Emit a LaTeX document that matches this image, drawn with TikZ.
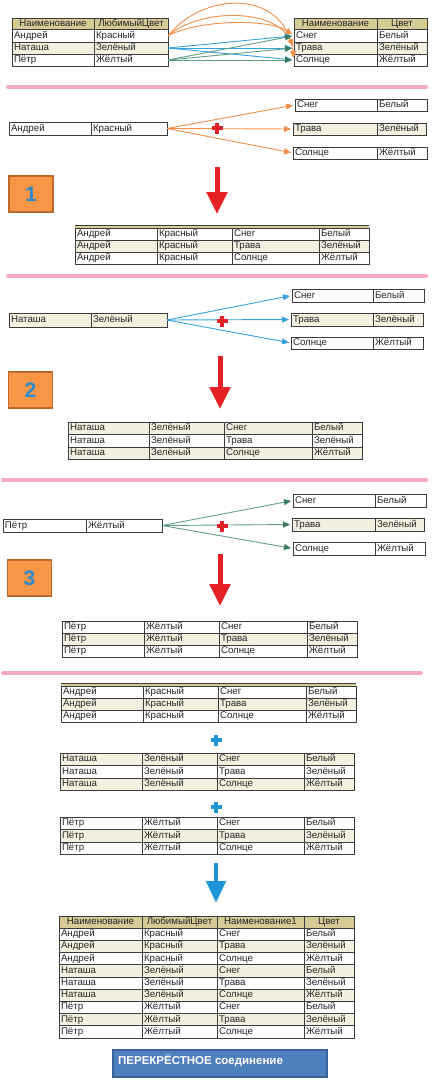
\documentclass[tikz,border=0pt]{standalone}
\usepackage{fontspec}
\setmainfont{Liberation Sans}
\usetikzlibrary{arrows.meta}
\definecolor{hdrcol}{HTML}{D6CA96}
\definecolor{rowcol}{HTML}{F3F0DF}
\definecolor{gridc}{HTML}{3C3C3C}
\definecolor{textc}{HTML}{262626}
\definecolor{orangeA}{HTML}{F0904A}
\definecolor{blueA}{HTML}{35A2DB}
\definecolor{greenA}{HTML}{5FA084}
\definecolor{greenH}{HTML}{3E7A5E}
\definecolor{redA}{HTML}{E52125}
\definecolor{pinkA}{HTML}{F6A8C4}
\definecolor{boxO}{HTML}{F79646}
\definecolor{boxOd}{HTML}{BE6A2C}
\definecolor{numB}{HTML}{2C8ACB}
\definecolor{bluePlus}{HTML}{1E96D6}
\definecolor{boxB}{HTML}{4F7FBF}
\definecolor{boxBd}{HTML}{3A6195}
\tikzset{
  gridline/.style={draw=gridc, line width=0.8pt},
  cell/.style={anchor=west, inner xsep=1.8pt, inner ysep=0pt, text height=7pt, text depth=2pt, text=textc, font=\fontsize{9.7}{11}\selectfont},
  hcell/.style={anchor=center, inner sep=0pt, text height=7pt, text depth=2pt, text=textc, font=\fontsize{9.7}{11}\selectfont},
  tiparrow/.style={line width=0.9pt, shorten >=2pt, -{Triangle[length=7pt,width=6pt]}},
  oarrow/.style={tiparrow, draw=orangeA},
  barrow/.style={tiparrow, draw=blueA},
  garrow/.style={tiparrow, draw=greenA, -{Triangle[length=7pt,width=6pt,fill=greenH,color=greenH]}},
  pinkline/.style={draw=pinkA, line width=4pt, line cap=round},
  numbox/.style={draw=boxOd, fill=boxO, line width=1.2pt, minimum width=44pt, minimum height=36pt, inner sep=0pt, text=numB, font=\fontsize{21}{24}\selectfont\bfseries},
  bigred/.style={draw=redA, line width=5pt, -{Triangle[length=22pt,width=20pt]}},
  bigblue/.style={draw=bluePlus, line width=4.5pt, -{Triangle[length=22pt,width=19pt]}},
  plusmark/.style={line width=3.4pt},
}
\newcommand{\trow}[9]{%
  \fill[#7] (#2,#5) rectangle (#4,#6);
  \draw[gridline] (#2,#5) rectangle (#4,#6) (#3,#5) -- (#3,#6);
  \node[cell] (#1a) at (#2,{(#5+#6)/2}) {#8};
  \node[cell] (#1b) at (#3,{(#5+#6)/2}) {#9};
  \coordinate (#1W) at (#2,{(#5+#6)/2});
  \coordinate (#1E) at (#4,{(#5+#6)/2});
}
\newcommand{\setcols}[5]{\def\cxA{#1}\def\cxB{#2}\def\cxC{#3}\def\cxD{#4}\def\cxE{#5}}
\newcommand{\frow}[8]{%
  \fill[#4] (\cxA,#2) rectangle (\cxE,#3);
  \draw[gridline] (\cxA,#2) rectangle (\cxE,#3) (\cxB,#2) -- (\cxB,#3) (\cxC,#2) -- (\cxC,#3) (\cxD,#2) -- (\cxD,#3);
  \node[cell] (#1a) at (\cxA,{(#2+#3)/2}) {#5};
  \node[cell] (#1b) at (\cxB,{(#2+#3)/2}) {#6};
  \node[cell] (#1c) at (\cxC,{(#2+#3)/2}) {#7};
  \node[cell] (#1d) at (\cxD,{(#2+#3)/2}) {#8};
}
\newcommand{\plusat}[3]{%
  \draw[plusmark,#1] ({#2-5.5},#3) -- ({#2+5.5},#3) (#2,{#3-5.5}) -- (#2,{#3+5.5});
}
\begin{document}
\begin{tikzpicture}[x=1pt,y=-1pt]
\useasboundingbox[fill=white] (0,0) rectangle (434,1084);

% ---------- top: source tables ----------
\fill[hdrcol] (12,18) rectangle (168,29.5);
\draw[gridline] (12,18) rectangle (168,29.5) (94,18) -- (94,29.5);
\node[hcell] (lh1) at (53,23.75) {Наименование};
\node[hcell] (lh2) at (131,23.75) {ЛюбимыйЦвет};
\trow{tA}{12}{94}{168}{29.5}{42}{white}{Андрей}{Красный}
\trow{tN}{12}{94}{168}{42}{54}{rowcol}{Наташа}{Зелёный}
\trow{tP}{12}{94}{168}{54}{66}{white}{Пётр}{Жёлтый}

\fill[hdrcol] (294,18) rectangle (427,29.5);
\draw[gridline] (294,18) rectangle (427,29.5) (377,18) -- (377,29.5);
\node[hcell] (rh1) at (335.5,23.75) {Наименование};
\node[hcell] (rh2) at (402,23.75) {Цвет};
\trow{tS}{294}{377}{427}{29.5}{42}{white}{Снег}{Белый}
\trow{tT}{294}{377}{427}{42}{54}{rowcol}{Трава}{Зелёный}
\trow{tC}{294}{377}{427}{54}{66}{white}{Солнце}{Жёлтый}

\draw[oarrow] (tAE) .. controls (205,-10) and (285,-10) .. (tCW);
\draw[oarrow] (tAE) .. controls (200,8) and (275,8) .. (tTW);
\draw[oarrow] (tAE) .. controls (200,19) and (270,19) .. (tSW);
\draw[barrow] (tNE) -- (tSW);
\draw[barrow] (tNE) -- (tTW);
\draw[barrow] (tNE) -- (tCW);
\draw[garrow] (tPE) -- (tSW);
\draw[garrow] (tPE) -- (tTW);
\draw[garrow] (tPE) -- (tCW);

\coordinate (pl1a) at (8,87); \coordinate (pl1b) at (426,87);
\draw[pinkline] (pl1a) -- (pl1b);

% ---------- section 1 ----------
\trow{aR}{9}{91}{167}{122}{135}{white}{Андрей}{Красный}
\trow{sAS}{295}{377}{427}{99}{111}{white}{Снег}{Белый}
\trow{sAT}{293}{377}{426}{123}{135}{rowcol}{Трава}{Зелёный}
\trow{sAC}{293}{377}{427}{147}{159}{white}{Солнце}{Жёлтый}
\draw[oarrow] (aRE) -- (sASW);
\draw[oarrow] (aRE) -- (sATW);
\draw[oarrow] (aRE) -- (sACW);
\plusat{redA}{217}{128}
\node[numbox] (n1) at (31,194) {1};
\coordinate (ra1) at (217,167); \coordinate (rb1) at (217,214);
\draw[bigred] (ra1) -- (rb1);
\setcols{75}{157}{232}{319}{369}
\fill[hdrcol] (75,225.5) rectangle (369,228);
\draw[gridline] (75,225.5) -- (369,225.5);
\frow{rA1}{228}{240}{white}{Андрей}{Красный}{Снег}{Белый}
\frow{rA2}{240}{252}{rowcol}{Андрей}{Красный}{Трава}{Зелёный}
\frow{rA3}{252}{264}{white}{Андрей}{Красный}{Солнце}{Жёлтый}

\coordinate (pl2a) at (8,276); \coordinate (pl2b) at (426,276);
\draw[pinkline] (pl2a) -- (pl2b);

% ---------- section 2 ----------
\trow{nR}{9}{91}{167}{313}{327}{rowcol}{Наташа}{Зелёный}
\trow{sBS}{292}{373}{424}{289}{302}{white}{Снег}{Белый}
\trow{sBT}{291}{373}{423}{313}{326}{rowcol}{Трава}{Зелёный}
\trow{sBC}{291}{373}{423}{337}{349}{white}{Солнце}{Жёлтый}
\draw[barrow] (nRE) -- (sBSW);
\draw[barrow] (nRE) -- (sBTW);
\draw[barrow] (nRE) -- (sBCW);
\plusat{redA}{222}{321}
\node[numbox] (n2) at (30.5,390) {2};
\coordinate (ra2) at (220,356); \coordinate (rb2) at (220,409);
\draw[bigred] (ra2) -- (rb2);
\setcols{68}{149}{224}{312}{362}
\frow{rB1}{422}{434.5}{rowcol}{Наташа}{Зелёный}{Снег}{Белый}
\frow{rB2}{434.5}{447}{white}{Наташа}{Зелёный}{Трава}{Зелёный}
\frow{rB3}{447}{459.5}{rowcol}{Наташа}{Зелёный}{Солнце}{Жёлтый}

\coordinate (pl3a) at (3,480); \coordinate (pl3b) at (426,480);
\draw[pinkline] (pl3a) -- (pl3b);

% ---------- section 3 ----------
\trow{pR}{3}{86}{162}{519}{532}{white}{Пётр}{Жёлтый}
\trow{sCS}{293}{375}{426}{494}{507}{white}{Снег}{Белый}
\trow{sCT}{292}{375}{424}{518}{531}{rowcol}{Трава}{Зелёный}
\trow{sCC}{293}{375}{425}{542}{555}{white}{Солнце}{Жёлтый}
\draw[garrow] (pRE) -- (sCSW);
\draw[garrow] (pRE) -- (sCTW);
\draw[garrow] (pRE) -- (sCCW);
\plusat{redA}{222}{526}
\node[numbox] (n3) at (29.5,578) {3};
\coordinate (ra3) at (220,554); \coordinate (rb3) at (220,606);
\draw[bigred] (ra3) -- (rb3);
\setcols{62}{144}{219}{307}{357}
\frow{rC1}{621}{633}{white}{Пётр}{Жёлтый}{Снег}{Белый}
\frow{rC2}{633}{645}{rowcol}{Пётр}{Жёлтый}{Трава}{Зелёный}
\frow{rC3}{645}{657}{white}{Пётр}{Жёлтый}{Солнце}{Жёлтый}

\coordinate (pl4a) at (3,673); \coordinate (pl4b) at (421,673);
\draw[pinkline] (pl4a) -- (pl4b);

% ---------- union ----------
\setcols{61}{143}{218}{306}{356}
\fill[hdrcol] (61,683.5) rectangle (356,686);
\draw[gridline] (61,683.5) -- (356,683.5);
\frow{uA1}{686}{698}{white}{Андрей}{Красный}{Снег}{Белый}
\frow{uA2}{698}{710}{rowcol}{Андрей}{Красный}{Трава}{Зелёный}
\frow{uA3}{710}{722}{white}{Андрей}{Красный}{Солнце}{Жёлтый}
\plusat{bluePlus}{216}{740}
\setcols{60}{142}{217}{304}{354}
\frow{uB1}{753}{765}{rowcol}{Наташа}{Зелёный}{Снег}{Белый}
\frow{uB2}{765}{778}{white}{Наташа}{Зелёный}{Трава}{Зелёный}
\frow{uB3}{778}{790}{rowcol}{Наташа}{Зелёный}{Солнце}{Жёлтый}
\plusat{bluePlus}{216}{807}
\frow{uC1}{817}{829}{white}{Пётр}{Жёлтый}{Снег}{Белый}
\frow{uC2}{829}{842}{rowcol}{Пётр}{Жёлтый}{Трава}{Зелёный}
\frow{uC3}{842}{854}{white}{Пётр}{Жёлтый}{Солнце}{Жёлтый}
\coordinate (ba) at (216,863); \coordinate (bb) at (216,903);
\draw[bigblue] (ba) -- (bb);

% ---------- result ----------
\setcols{59}{142}{217}{304}{354}
\fill[hdrcol] (59,916) rectangle (354,928);
\draw[gridline] (59,916) rectangle (354,928) (142,916) -- (142,928) (217,916) -- (217,928) (304,916) -- (304,928);
\node[hcell] (fh1) at (100.5,922) {Наименование};
\node[hcell] (fh2) at (179.5,922) {ЛюбимыйЦвет};
\node[hcell] (fh3) at (260.5,922) {Наименование1};
\node[hcell] (fh4) at (329,922) {Цвет};
\frow{f1}{928}{940.2}{white}{Андрей}{Красный}{Снег}{Белый}
\frow{f2}{940.2}{952.4}{rowcol}{Андрей}{Красный}{Трава}{Зелёный}
\frow{f3}{952.4}{964.7}{white}{Андрей}{Красный}{Солнце}{Жёлтый}
\frow{f4}{964.7}{976.9}{rowcol}{Наташа}{Зелёный}{Снег}{Белый}
\frow{f5}{976.9}{989.1}{white}{Наташа}{Зелёный}{Трава}{Зелёный}
\frow{f6}{989.1}{1001.3}{rowcol}{Наташа}{Зелёный}{Солнце}{Жёлтый}
\frow{f7}{1001.3}{1013.6}{white}{Пётр}{Жёлтый}{Снег}{Белый}
\frow{f8}{1013.6}{1025.8}{rowcol}{Пётр}{Жёлтый}{Трава}{Зелёный}
\frow{f9}{1025.8}{1038}{white}{Пётр}{Жёлтый}{Солнце}{Жёлтый}

\node[draw=boxBd, fill=boxB, line width=1.5pt, minimum width=214pt, minimum height=27pt, inner sep=0pt] (jbox) at (220,1063.5) {};
\node[anchor=base west, inner sep=0pt, text=white, font=\fontsize{11.5}{13}\selectfont\bfseries] (jtext) at (118,1064.5) {ПЕРЕКРЁСТНОЕ соединение};
\end{tikzpicture}
\end{document}
